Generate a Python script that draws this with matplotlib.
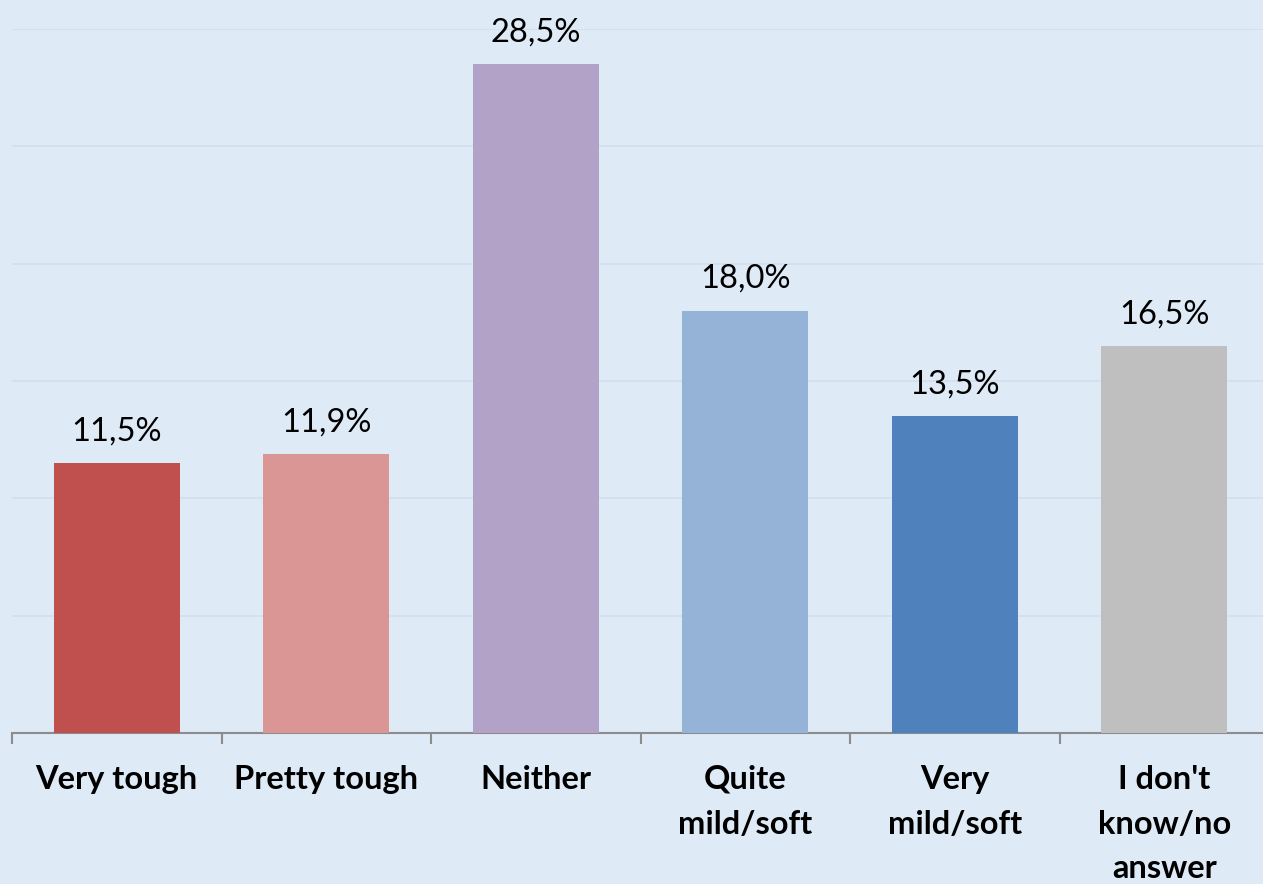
import numpy as np
import matplotlib
matplotlib.use("Agg")
from matplotlib import pyplot as plt

# Datos
categories = ["Very tough", "Pretty tough", "Neither", "Quite\nmild/soft",
              "Very\nmild/soft", "I don't\nknow/no\nanswer"]
values = [11.5, 11.9, 28.5, 18.0, 13.5, 16.5]
value_labels = ["11,5%", "11,9%", "28,5%", "18,0%", "13,5%", "16,5%"]
colors = ["#C0504D", "#DA9694", "#B3A2C7", "#95B3D7", "#4F81BD", "#BFBFBF"]

bg = "#DEEAF6"
plt.rcParams['font.family'] = ['Lato', 'DejaVu Sans']

fig = plt.figure(figsize=(12.63, 8.84), dpi=100, facecolor=bg)
ax = fig.add_axes([12 / 1263, 151 / 884, 1257 / 1263, 704 / 884])
ax.set_facecolor(bg)

x = np.arange(len(categories))
ax.bar(x, values, width=0.6, color=colors, zorder=3)

for xi, v, lab in zip(x, values, value_labels):
    ax.annotate(lab, (xi, v), xytext=(0, 12), textcoords="offset points",
                ha="center", va="bottom", fontsize=23.5, color="black")

ax.set_xlim(-0.5, len(categories) - 0.5)
ax.set_ylim(0, 30)
ax.set_yticks(np.arange(5, 31, 5))
ax.yaxis.grid(True, color="#D3DFEC", linewidth=1.2, zorder=0)
ax.tick_params(axis="y", left=False, labelleft=False)

# Ticks between categories
ax.set_xticks(np.arange(-0.5, len(categories), 1.0))
ax.set_xticklabels([])
ax.tick_params(axis="x", which="major", direction="out", length=8,
               width=1.5, color="#8C8C8C")
ax.set_xticks(x, minor=True)
ax.set_xticklabels(categories, minor=True, fontsize=23.5, fontweight="bold",
                   linespacing=1.65, va="top")
ax.tick_params(axis="x", which="minor", length=0, pad=23)

for side in ["top", "right", "left"]:
    ax.spines[side].set_visible(False)
ax.spines["bottom"].set_color("#8C8C8C")
ax.spines["bottom"].set_linewidth(1.5)

fig.savefig("out.png", dpi=100, facecolor=bg)
